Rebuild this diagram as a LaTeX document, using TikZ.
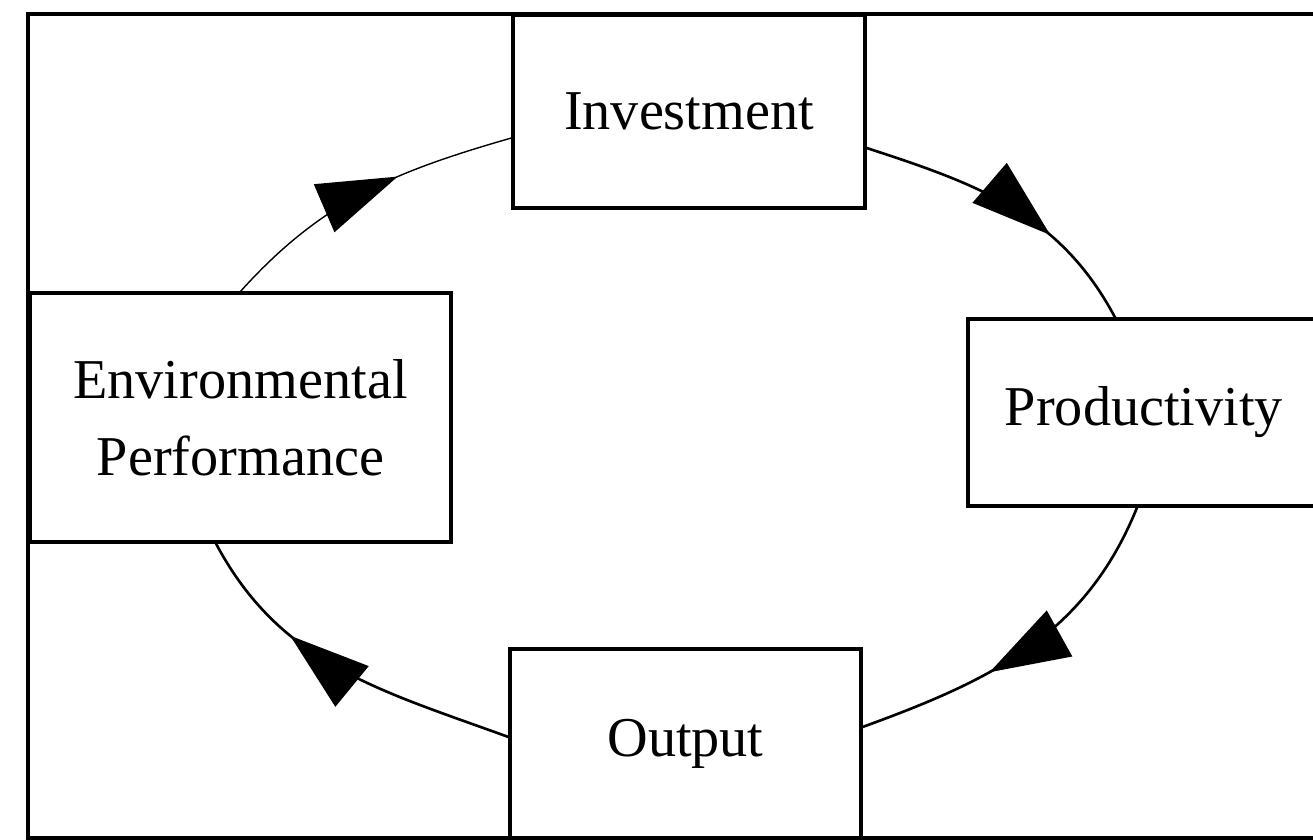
\documentclass[tikz,border=0pt]{standalone}
\usepackage{fontspec}
\setmainfont{Liberation Serif}
\usetikzlibrary{arrows.meta,decorations.markings}
\begin{document}
\begin{tikzpicture}[
  box/.style={draw=black, fill=white, line width=1.8pt, rectangle, inner sep=0pt, align=center,
    font=\fontsize{32}{43.7}\selectfont},
  flow/.style={line width=1.5pt, postaction={decorate},
    decoration={markings, mark=at position #1 with {\arrow{Triangle[length=1.6cm,width=1.04cm]}}}},
  flow/.default=0.6,
  frame/.style={line width=2.4pt}
]
\useasboundingbox (0,0) rectangle (26.26,16.8);
\clip (0,0) rectangle (26.26,16.8);

\draw[frame] (0.56,0.04) rectangle (27,16.52);

\node[box, minimum width=7.04cm, minimum height=3.86cm] (inv) at (13.78,14.57) {Investment};
\node[box, minimum width=8.42cm, minimum height=4.98cm] (env) at (4.81,8.45) {Environmental\\Performance};
\node[box, minimum width=7.04cm, minimum height=3.74cm] (prod) at (22.88,8.55) {Productivity};
\node[box, minimum width=7.02cm, minimum height=3.78cm] (out) at (13.71,1.93) {Output};

\draw[flow=0.66] ([yshift=-0.73cm]inv.east) to[out=-18, in=118] ([xshift=-0.58cm]prod.north);
\draw[flow=0.62] ([xshift=-0.14cm]prod.south) to[out=-112, in=20] ([yshift=0.33cm]out.east);
\draw[flow=0.67] ([yshift=0.13cm]out.west) to[out=160, in=-62] ([xshift=-0.49cm]env.south);
\draw[flow=0.62, line width=0.8pt] (env.north) to[out=48, in=196] ([yshift=-0.53cm]inv.west);
\end{tikzpicture}
\end{document}
